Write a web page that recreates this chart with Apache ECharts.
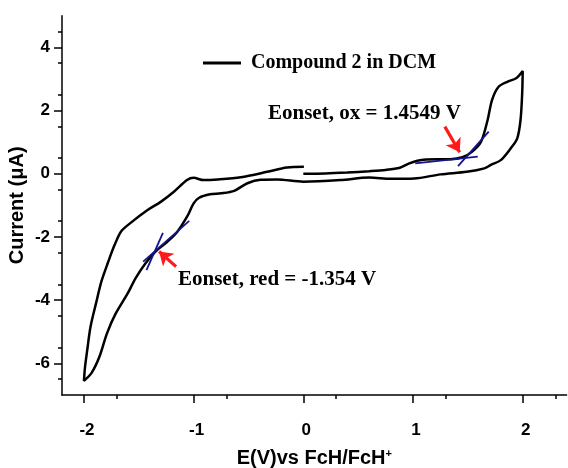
<!DOCTYPE html>
<html>
<head>
<meta charset="utf-8">
<script src="https://cdn.jsdelivr.net/npm/echarts@6/dist/echarts.min.js"></script>
<style>
  html, body { margin: 0; padding: 0; background: #fff; }
  #chart { width: 568px; height: 468px; }
</style>
</head>
<body>
<div id="chart"></div>
<script>
// cyclic voltammogram, one continuous scan: 0 V -> +2 V -> -2 V -> 0 V
var scanForward = [
  [0.00, 0.00], [0.20, 0.01], [0.40, 0.04], [0.60, 0.08], [0.75, 0.12], [0.88, 0.19],
  [0.96, 0.32], [1.04, 0.41], [1.12, 0.45], [1.22, 0.46], [1.34, 0.46], [1.45, 0.52],
  [1.54, 0.70], [1.62, 1.01], [1.68, 1.70], [1.72, 2.33], [1.78, 2.75], [1.86, 2.91],
  [1.94, 3.02], [2.00, 3.25]
];
var scanReverse = [
  [1.995, 2.54], [1.98, 1.70], [1.95, 1.12], [1.89, 0.80], [1.80, 0.43], [1.71, 0.28],
  [1.65, 0.17], [1.49, 0.06], [1.25, -0.02], [1.01, -0.15], [0.80, -0.16], [0.60, -0.12],
  [0.34, -0.20], [0.00, -0.25], [-0.24, -0.18], [-0.39, -0.19], [-0.51, -0.30], [-0.63, -0.54],
  [-0.75, -0.62], [-0.85, -0.65], [-0.95, -0.76], [-1.00, -0.94], [-1.06, -1.36], [-1.15, -1.84],
  [-1.24, -2.15], [-1.35, -2.47], [-1.44, -2.84], [-1.53, -3.31], [-1.60, -3.78], [-1.71, -4.42],
  [-1.79, -5.05], [-1.86, -5.80], [-1.93, -6.30], [-2.00, -6.55]
];
var scanReturn = [
  [-1.99, -6.11], [-1.97, -5.58], [-1.94, -4.84], [-1.89, -4.10], [-1.84, -3.40],
  [-1.78, -2.80], [-1.72, -2.25], [-1.66, -1.82], [-1.58, -1.57], [-1.42, -1.15], [-1.30, -0.89],
  [-1.18, -0.57], [-1.06, -0.20], [-1.00, -0.13], [-0.91, -0.20], [-0.78, -0.18], [-0.57, -0.11],
  [-0.33, 0.06], [-0.15, 0.20], [0.005, 0.22]
];

// onset tangents
var oxTangentA = [[1.02, 0.33], [1.59, 0.54]];
var oxTangentB = [[1.41, 0.24], [1.69, 1.33]];
var redTangentA = [[-1.46, -2.78], [-1.04, -1.49]];
var redTangentB = [[-1.43, -3.05], [-1.28, -1.87]];

// arrows: tail -> tip
var oxArrow = [[1.29, 1.49], [1.425, 0.68]];
var redArrow = [[-1.16, -2.94], [-1.315, -2.46]];

var xTicks = [-2, -1, 0, 1, 2];
var yTicks = [-6, -4, -2, 0, 2, 4];

var seriesName = 'Compound 2 in DCM';
var oxLabel = 'Eonset, ox = 1.4549 V';
var redLabel = 'Eonset, red = -1.354 V';

var cvData = scanForward.concat(scanReverse, scanReturn);

var sans = 'Liberation Sans, Arial, sans-serif';
var serif = 'Liberation Serif, Times New Roman, serif';
var navy = '#14148c';

function tangent(data) {
  return {
    type: 'line', data: data, symbol: 'none', silent: true,
    lineStyle: { color: navy, width: 1.8 }, z: 3
  };
}

function arrow(pts) {
  return {
    type: 'line', data: [], silent: true,
    markLine: {
      silent: true, symbol: ['none', 'arrow'], symbolSize: 13,
      label: { show: false },
      lineStyle: { color: '#ff1a1a', width: 3.2, type: 'solid' },
      data: [[{ coord: pts[0] }, { coord: pts[1] }]]
    }
  };
}

var chart = echarts.init(document.getElementById('chart'));
chart.setOption({
  animation: false,
  grid: { left: 62, right: 1.4, top: 15.7, bottom: 73, outerBoundsMode: 'none', containLabel: false },
  legend: {
    data: [seriesName],
    left: 198, top: 48,
    icon: 'rect', itemWidth: 38, itemHeight: 3,
    textStyle: { fontFamily: serif, fontWeight: 'bold', fontSize: 20, color: '#000', padding: [0, 0, 0, 5] }
  },
  xAxis: {
    type: 'value', min: -2.2, max: 2.4,
    name: 'E(V)vs FcH/FcH{sup|+}', nameLocation: 'middle', nameGap: 53,
    nameTextStyle: {
      fontFamily: sans, fontWeight: 'bold', fontSize: 20, color: '#000',
      rich: { sup: { fontFamily: sans, fontWeight: 'bold', fontSize: 11, verticalAlign: 'top', padding: [0, 0, 10, 0] } }
    },
    axisLine: { onZero: false, lineStyle: { color: '#000', width: 1.5 } },
    axisTick: { inside: false, length: 8, lineStyle: { color: '#000', width: 1.5 },
      customValues: xTicks },
    minorTick: { show: true, splitNumber: 2, length: 4, lineStyle: { color: '#000', width: 1.5 } },
    axisLabel: { fontFamily: sans, fontWeight: 'bold', fontSize: 17, color: '#000', margin: 27,
      padding: [0, 0, 0, 6], customValues: xTicks },
    interval: 1,
    splitLine: { show: false }
  },
  yAxis: {
    type: 'value', min: -7, max: 5,
    name: 'Current (\u03bcA)', nameLocation: 'middle', nameGap: 35, nameMoveOverlap: false,
    nameTextStyle: { fontFamily: sans, fontWeight: 'bold', fontSize: 20, color: '#000' },
    axisLine: { onZero: false, lineStyle: { color: '#000', width: 1.5 } },
    axisTick: { length: 8, lineStyle: { color: '#000', width: 1.5 }, customValues: yTicks },
    minorTick: { show: true, splitNumber: 2, length: 4, lineStyle: { color: '#000', width: 1.5 } },
    axisLabel: { fontFamily: sans, fontWeight: 'bold', fontSize: 17, color: '#000', margin: 12,
      customValues: yTicks },
    interval: 1,
    splitLine: { show: false }
  },
  series: [
    {
      name: seriesName, type: 'line', data: cvData, symbol: 'none', smooth: 0.3,
      lineStyle: { color: '#000', width: 2.5 }, itemStyle: { color: '#000' }, z: 2
    },
    tangent(oxTangentA), tangent(oxTangentB), tangent(redTangentA), tangent(redTangentB),
    arrow(oxArrow), arrow(redArrow)
  ],
  graphic: [
    { type: 'text', left: 268, top: 103,
      style: { text: oxLabel, font: 'bold 21px ' + serif, fill: '#000' } },
    { type: 'text', left: 178, top: 269,
      style: { text: redLabel, font: 'bold 21px ' + serif, fill: '#000' } }
  ]
});
</script>
</body>
</html>
